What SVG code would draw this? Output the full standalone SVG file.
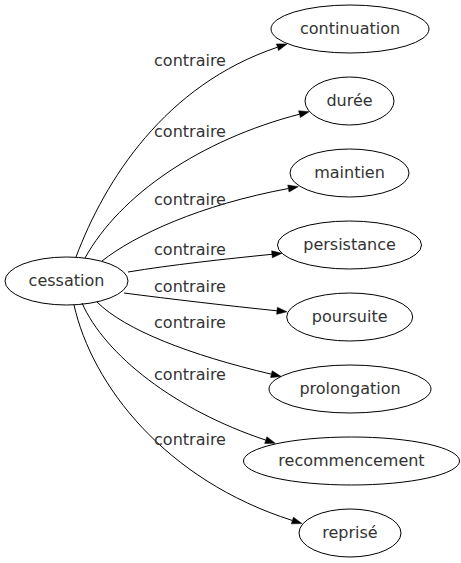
<svg xmlns="http://www.w3.org/2000/svg" width="461" height="563" viewBox="0 0 461 563">
<style>
.node ellipse{fill:none;stroke:#000;stroke-width:1}
text{font-family:"DejaVu Sans",sans-serif;font-size:16px;fill:#333;text-anchor:middle}
.edge path{fill:none;stroke:#000;stroke-width:1;marker-end:url(#arr)}
</style>
<defs>
<marker id="arr" markerUnits="userSpaceOnUse" markerWidth="11" markerHeight="8" refX="0" refY="3.5" orient="auto" viewBox="0 0 11 7" overflow="visible">
<path d="M0,0 L10,3.5 L0,7 z" fill="#000" stroke="#000" stroke-width="0.5"/>
</marker>
</defs>
<rect width="461" height="563" fill="#fff"/>
<g id="edges" class="edge">
<path d="M76,257 C105,180 165,85 277.5,47.2"/>
<path d="M85,258 C120,195 200,140 299.5,114.2"/>
<path d="M102,261 C135,235 200,205 288.4,188.5"/>
<path d="M128,272 C170,265 225,259 272,254.3"/>
<path d="M124,293 C170,299 230,306 277,310.8"/>
<path d="M97,302 C125,330 190,355 271.4,374.2"/>
<path d="M82,303 C105,355 175,410 265.8,440.1"/>
<path d="M74,305 C92,385 165,480 292.4,520.5"/>
<text x="190" y="65.5">contraire</text>
<text x="190" y="137">contraire</text>
<text x="190" y="204.5">contraire</text>
<text x="190" y="254.5">contraire</text>
<text x="190" y="291.5">contraire</text>
<text x="190" y="327.5">contraire</text>
<text x="190" y="380">contraire</text>
<text x="190" y="445">contraire</text>
</g>
<g id="cessation" class="node"><ellipse cx="66.5" cy="281" rx="61.5" ry="24"/><text x="66.5" y="286">cessation</text></g>
<g id="continuation" class="node"><ellipse cx="350" cy="29" rx="79" ry="24"/><text x="350" y="34">continuation</text></g>
<g id="duree" class="node"><ellipse cx="349.5" cy="101" rx="44.5" ry="24"/><text x="349.5" y="106">durée</text></g>
<g id="maintien" class="node"><ellipse cx="349.5" cy="173" rx="59.5" ry="24"/><text x="349.5" y="178">maintien</text></g>
<g id="persistance" class="node"><ellipse cx="349.5" cy="245" rx="72" ry="24"/><text x="349.5" y="250">persistance</text></g>
<g id="poursuite" class="node"><ellipse cx="349.7" cy="317" rx="63" ry="24"/><text x="349.7" y="322">poursuite</text></g>
<g id="prolongation" class="node"><ellipse cx="350" cy="389" rx="81" ry="24"/><text x="350" y="394">prolongation</text></g>
<g id="recommencement" class="node"><ellipse cx="351.5" cy="461" rx="108" ry="24"/><text x="351.5" y="466">recommencement</text></g>
<g id="reprise" class="node"><ellipse cx="350" cy="533" rx="51" ry="24"/><text x="350" y="538">reprisé</text></g>
</svg>
